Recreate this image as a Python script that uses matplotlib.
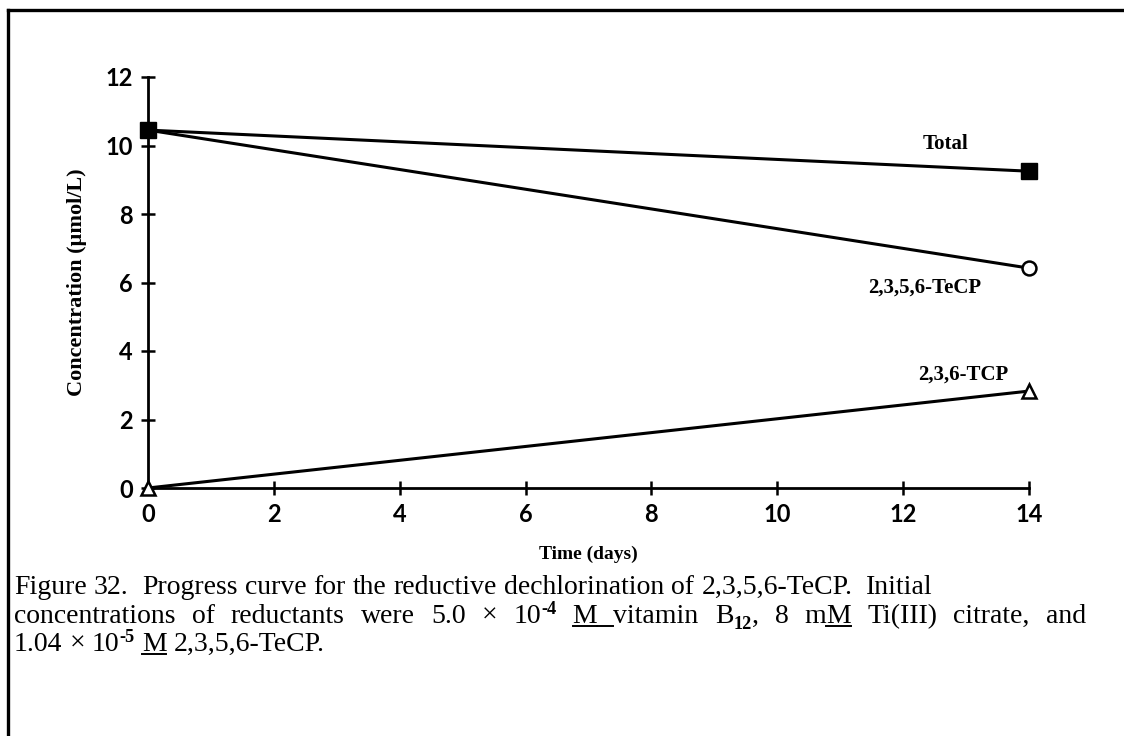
import matplotlib
matplotlib.use("Agg")
import matplotlib.pyplot as plt
from matplotlib.lines import Line2D

# Measured concentrations (umol/L) at the start and after two weeks
days = [0, 14]
total = [10.45, 9.25]
tecp = [10.45, 6.42]
tcp = [0.0, 2.83]

x_ticks = [0, 2, 4, 6, 8, 10, 12, 14]
y_ticks = [0, 2, 4, 6, 8, 10, 12]

series_labels = ["Total", "2,3,5,6-TeCP", "2,3,6-TCP"]
label_pos = [(12.67, 10.05), (12.35, 5.85), (12.95, 3.3)]

W, H = 1124, 736
fig = plt.figure(figsize=(W / 100, H / 100), dpi=100)
fig.patch.set_facecolor("white")

ax = fig.add_axes([148 / W, 1 - 488 / H, (1029 - 148) / W, (488 - 77) / H])
ax.set_xlim(0, 14)
ax.set_ylim(0, 12)
for side in ("top", "right"):
    ax.spines[side].set_visible(False)
for side in ("left", "bottom"):
    ax.spines[side].set_linewidth(2.0)

lw = 2.2
ax.plot(days, tcp, color="black", lw=lw, marker="^", ms=10,
        mfc="white", mec="black", mew=1.8, clip_on=False, zorder=3)
ax.plot(days, tecp, color="black", lw=lw, marker="o", ms=10,
        mfc="white", mec="black", mew=1.8, clip_on=False, zorder=3)
ax.plot(days, total, color="black", lw=lw, marker="s", ms=11,
        mfc="black", mec="black", clip_on=False, zorder=4)

ax.set_xticks(x_ticks)
ax.set_yticks(y_ticks)
ax.set_xticklabels([str(v) for v in x_ticks])
ax.set_yticklabels([str(v) for v in y_ticks])
ax.tick_params(direction="inout", length=10, width=1.8, labelsize=17, pad=6)
for lab in ax.get_xticklabels() + ax.get_yticklabels():
    lab.set_family("Lato")
    lab.set_weight("bold")

serif = "Liberation Serif"
ax.set_xlabel("Time (days)", family=serif, weight="bold", fontsize=14, labelpad=14)
ax.set_ylabel("Concentration (\u00b5mol/L)", family=serif, weight="bold",
              fontsize=16, labelpad=13)

for text, (tx, ty) in zip(series_labels, label_pos):
    ax.text(tx, ty, text, family=serif, weight="bold", fontsize=15,
            ha="center", va="center")

# Page frame (top and left rules)
fig.add_artist(Line2D([8 / W, 1.0], [1 - 10 / H, 1 - 10 / H], color="black", lw=2.4))
fig.add_artist(Line2D([8 / W, 8 / W], [0.0, 1 - 10 / H], color="black", lw=2.4))

# Caption, set word by word so superscripts, subscripts and underlines line up
renderer = fig.canvas.get_renderer()
cap_size = 20


def run_style(kind):
    if kind == "sup":
        return cap_size * 0.66, -cap_size * 0.45, "bold"
    if kind == "sub":
        return cap_size * 0.66, cap_size * 0.28, "bold"
    return cap_size, 0.0, "normal"


def measure(text, size, weight):
    t = fig.text(0, 0, text, family=serif, fontsize=size, weight=weight)
    w = t.get_window_extent(renderer).width
    t.remove()
    return w


space_w = measure("x x", cap_size, "normal") - measure("xx", cap_size, "normal")


def tokens(runs):
    out = []
    for text, kind in runs:
        parts = text.split(" ")
        for i, p in enumerate(parts):
            if i > 0:
                out.append((None, kind))
            if p:
                out.append((p, kind))
    return out


def draw_line(x_px, base_px, runs, width=None):
    toks = tokens(runs)
    n_space = sum(1 for t, _ in toks if t is None)
    extra = 0.0
    if width is not None and n_space:
        natural = sum(space_w if t is None else measure(t, *run_style(k)[::2])
                      for t, k in toks)
        extra = max(0.0, (width - natural) / n_space)
    x = x_px
    for text, kind in toks:
        if text is None:
            gap = space_w + extra
            if kind == "ul":
                uy = 1 - (base_px + 3) / H
                fig.add_artist(Line2D([x / W, (x + gap) / W], [uy, uy],
                                      color="black", lw=1.4))
            x += gap
            continue
        size, dy, weight = run_style(kind)
        t = fig.text(x / W, 1 - (base_px + dy) / H, text, family=serif,
                     fontsize=size, weight=weight, ha="left", va="baseline")
        bb = t.get_window_extent(renderer)
        if kind == "ul":
            uy = 1 - (base_px + 3) / H
            fig.add_artist(Line2D([x / W, (x + bb.width) / W], [uy, uy],
                                  color="black", lw=1.4))
        x += bb.width


caption = [
    [("Figure 32.  Progress curve for the reductive dechlorination of 2,3,5,6-TeCP.  Initial", "")],
    [("concentrations of reductants were 5.0 \u00d7 10", ""), ("-4", "sup"), (" ", ""),
     ("M", "ul"), (" ", "ul"), ("vitamin B", ""), ("12", "sub"), (", 8 m", ""), ("M", "ul"),
     (" Ti(III) citrate, and", "")],
    [("1.04 \u00d7 10", ""), ("-5", "sup"), (" ", ""), ("M", "ul"), (" 2,3,5,6-TeCP.", "")],
]
baselines = [594, 623, 651]
widths = [None, 1072, None]
for runs, b, w in zip(caption, baselines, widths):
    draw_line(14, b, runs, w)

fig.savefig("out.png", dpi=100, facecolor="white")
